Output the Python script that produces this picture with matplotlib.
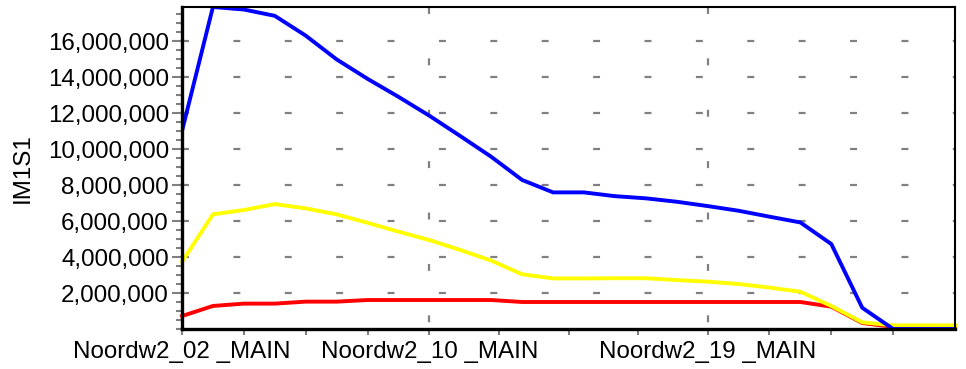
import matplotlib
matplotlib.use("Agg")
import matplotlib.pyplot as plt
from matplotlib.ticker import FixedLocator, FuncFormatter, MultipleLocator

plt.rcParams["font.family"] = ["Liberation Sans", "DejaVu Sans"]
plt.rcParams["lines.scale_dashes"] = False

# Branch nodes along the route
nodes = [f"Noordw2_{i:02d} _MAIN" for i in range(2, 28)]

# IM1S1 per node for the three scenarios
im1s1_blue = [11.00e6, 17.89e6, 17.75e6, 17.40e6, 16.30e6, 14.98e6, 13.90e6, 12.90e6,
              11.85e6, 10.72e6, 9.57e6, 8.28e6, 7.59e6, 7.59e6, 7.38e6, 7.26e6,
              7.07e6, 6.83e6, 6.57e6, 6.24e6, 5.92e6, 4.72e6, 1.18e6, 0.0, 0.0, 0.0]
im1s1_yellow = [3.74e6, 6.37e6, 6.61e6, 6.94e6, 6.70e6, 6.37e6, 5.90e6, 5.41e6,
                4.94e6, 4.39e6, 3.80e6, 3.04e6, 2.81e6, 2.81e6, 2.82e6, 2.82e6,
                2.72e6, 2.63e6, 2.50e6, 2.30e6, 2.07e6, 1.28e6, 0.37e6, 0.20e6, 0.20e6, 0.20e6]
im1s1_red = [0.72e6, 1.28e6, 1.41e6, 1.41e6, 1.52e6, 1.52e6, 1.61e6, 1.61e6,
             1.61e6, 1.61e6, 1.61e6, 1.50e6, 1.50e6, 1.50e6, 1.50e6, 1.50e6,
             1.50e6, 1.50e6, 1.50e6, 1.50e6, 1.50e6, 1.24e6, 0.33e6, 0.12e6, 0.12e6, 0.12e6]

labelled_nodes = ["Noordw2_02 _MAIN", "Noordw2_10 _MAIN", "Noordw2_19 _MAIN"]
y_major = [2e6, 4e6, 6e6, 8e6, 10e6, 12e6, 14e6, 16e6]

x = list(range(len(nodes)))
major_idx = [nodes.index(n) for n in labelled_nodes] + [len(nodes) - 1]

# four sub-divisions between labelled nodes
minor_idx = []
for a, b in zip(major_idx[:-1], major_idx[1:]):
    step = (b - a) / 4
    minor_idx += [a + step * k for k in (1, 2, 3)]

fig = plt.figure(figsize=(9.66, 3.69), dpi=100)
W, H = 966, 369
ax = fig.add_axes([182 / W, 1 - 329 / H, (955 - 182) / W, (329 - 7) / H])

grey = "#808080"
dash = (0, (5.0, 32.0))
fs = 17.4

ymax = max(im1s1_blue)
ax.set_xlim(0, len(nodes) - 1)
ax.set_ylim(0, ymax)

for yv in y_major:
    ax.axhline(yv, color=grey, lw=1.6, linestyle=dash, zorder=1)
for xi in major_idx[1:-1]:
    ax.plot([xi, xi], [1, 0], transform=ax.get_xaxis_transform(),
            color=grey, lw=1.6, linestyle=dash, zorder=1)

lw = 2.8
ax.plot(x, im1s1_red, color="#FF0000", lw=lw, zorder=3, clip_on=False)
ax.plot(x, im1s1_yellow, color="#FFFF00", lw=lw, zorder=3, clip_on=False)
ax.plot(x, im1s1_blue, color="#0000FF", lw=lw, zorder=3)

# axes frame
for side in ("left", "bottom"):
    ax.spines[side].set_linewidth(2.4)
for side in ("top", "right"):
    ax.spines[side].set_linewidth(1.5)
for s in ax.spines.values():
    s.set_color("black")
    s.set_zorder(4)

# y axis
ax.yaxis.set_major_locator(FixedLocator(y_major))
ax.yaxis.set_minor_locator(MultipleLocator(5e5))
ax.yaxis.set_major_formatter(FuncFormatter(lambda v, p: f"{v:,.0f}"))
ax.tick_params(axis="y", which="major", direction="out", length=7.5, width=1.5,
               color=grey, labelsize=fs, pad=2)
ax.tick_params(axis="y", which="minor", direction="out", length=4.3, width=1.5, color=grey)

# x axis
ax.xaxis.set_major_locator(FixedLocator(major_idx[:-1]))
ax.xaxis.set_minor_locator(FixedLocator(minor_idx))
ax.set_xticklabels(labelled_nodes)
ax.tick_params(axis="x", which="both", direction="out", length=4.3, width=1.5,
               color=grey, labelsize=fs, pad=4)

ax.set_ylabel("IM1S1", fontsize=fs, va="center")
ax.yaxis.set_label_coords((23 - 182) / (955 - 182), 0.5)

fig.savefig("out.png", dpi=100, facecolor="white")
